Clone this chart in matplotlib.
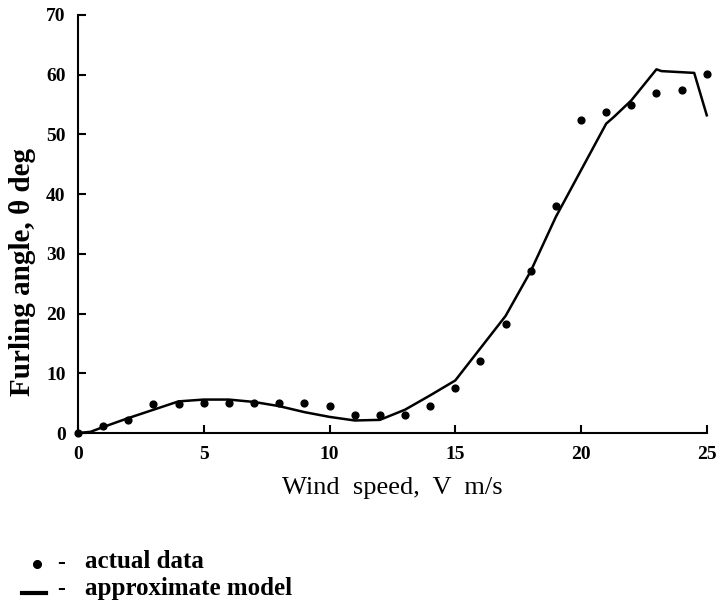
import matplotlib.pyplot as plt
from matplotlib.lines import Line2D

# measured wind speeds and furling angles
wind_speed = [0, 1, 2, 3, 4, 5, 6, 7, 8, 9, 10, 11, 12,
              13, 14, 15, 16, 17, 18, 19, 20, 21, 22, 23, 24, 25]
furl_actual = [0, 1.1, 2.2, 4.9, 4.8, 5.0, 5.0, 5.0, 5.0, 5.0, 4.6, 3.0, 3.0,
               3.0, 4.6, 7.5, 12.1, 18.2, 27.1, 38.0, 52.4, 53.8, 55.0, 57.0, 57.5, 60.1]

# approximate model curve
model_speed = [0, 0.5, 1, 2, 3, 4, 5, 6, 7, 8, 9, 10, 11, 12, 13, 14, 15,
               16, 17, 18, 19, 20, 21, 21.3, 22, 23, 23.2, 24.5, 25]
furl_model = [0, 0.2, 1.0, 2.5, 3.9, 5.3, 5.6, 5.6, 5.2, 4.5, 3.5, 2.7, 2.1, 2.2, 3.9,
              6.3, 8.8, 14.2, 19.6, 27.1, 36.2, 44.0, 51.8, 52.9, 55.7, 60.9, 60.6, 60.3, 53.2]

x_ticks = [0, 5, 10, 15, 20, 25]
y_ticks = [0, 10, 20, 30, 40, 50, 60, 70]

serif = ['Liberation Serif', 'DejaVu Serif']
plt.rcParams['font.family'] = serif

fig = plt.figure(figsize=(7.19, 6.11), dpi=100)
ax = fig.add_axes([0.1085, 0.2913, 0.8745, 0.6842])

ax.plot(model_speed, furl_model, color='black', lw=1.8, clip_on=False)
ax.scatter(wind_speed, furl_actual, s=24, color='black', zorder=3, clip_on=False)

ax.set_xlim(0, 25)
ax.set_ylim(0, 70)
ax.set_xticks(x_ticks)
ax.set_yticks(y_ticks)
for s in ['top', 'right']:
    ax.spines[s].set_visible(False)
for s in ['left', 'bottom']:
    ax.spines[s].set_linewidth(1.5)
ax.tick_params(direction='in', length=6, width=1.5, labelsize=14, pad=9)
for lab in ax.get_xticklabels() + ax.get_yticklabels():
    lab.set_fontweight('bold')

fig.text(23 / 719, 1 - 272 / 611, 'Furling angle, θ deg', fontsize=21, fontweight='bold',
         rotation=90, ha='center', va='center')
fig.text(392 / 719, 1 - 488 / 611, 'Wind  speed,  V  m/s', fontsize=19,
         ha='center', va='center')

# legend drawn by hand below the axes
fig.add_artist(Line2D([37 / 719], [1 - 564 / 611], marker='o', ms=5.5, color='black',
                      transform=fig.transFigure))
fig.add_artist(Line2D([22 / 719, 46 / 719], [1 - 593 / 611] * 2, lw=3, color='black',
                      transform=fig.transFigure))
fig.text(57 / 719, 1 - 563 / 611, '-', fontsize=17, va='center', fontweight='bold')
fig.text(57 / 719, 1 - 590 / 611, '-', fontsize=17, va='center', fontweight='bold')
fig.text(85 / 719, 1 - 561 / 611, 'actual data', fontsize=18, va='center', fontweight='bold')
fig.text(85 / 719, 1 - 588 / 611, 'approximate model', fontsize=18, va='center', fontweight='bold')

fig.savefig('out.png', dpi=100)
